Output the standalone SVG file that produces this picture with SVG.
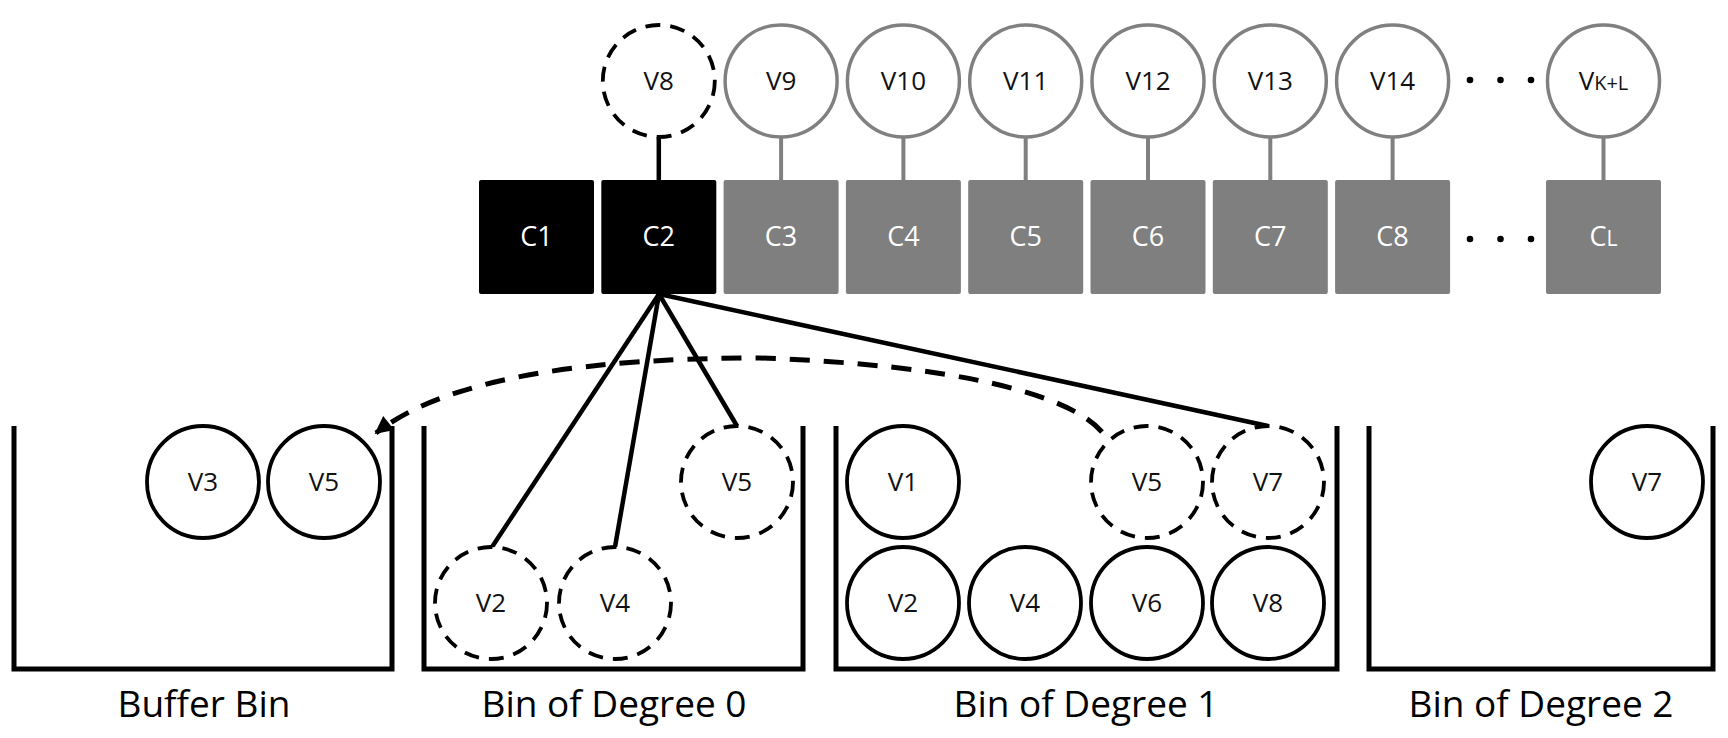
<svg xmlns="http://www.w3.org/2000/svg" width="1728" height="738" viewBox="0 0 1728 738">
<style>
  .vt { font-family: "Open Sans", "Liberation Sans", sans-serif; font-size: 26px; fill: #111; text-anchor: middle; }
  .ct { font-family: "Open Sans", "Liberation Sans", sans-serif; font-size: 27px; fill: #fff; text-anchor: middle; }
  .bt { font-family: "Open Sans", "Liberation Sans", sans-serif; font-size: 37px; fill: #000; text-anchor: middle; }
  .gcirc { fill: #fff; stroke: #808080; stroke-width: 3.5; }
  .bcirc { fill: #fff; stroke: #000; stroke-width: 3.8; }
  .dcirc { fill: #fff; stroke: #000; stroke-width: 3.8; stroke-dasharray: 15 10; }
  .gbox { fill: #7f7f7f; }
  .kbox { fill: #000; }
  .glink { stroke: #808080; stroke-width: 4; fill: none; }
  .klink { stroke: #000; stroke-width: 4.5; fill: none; }
  .bin { stroke: #000; stroke-width: 5; fill: none; }
  .dot { fill: #000; }
</style>
<defs>
  <marker id="arr" viewBox="0 0 10 10" refX="9" refY="5" markerWidth="22" markerHeight="18" markerUnits="userSpaceOnUse" orient="auto">
    <path d="M0,0 L10,5 L0,10 z" fill="#000"/>
  </marker>
</defs>
<rect width="1728" height="738" fill="#fff"/>

<!-- bins -->
<g id="bins">
  <path class="bin" d="M14,426 V669 H392 V426"/>
  <path class="bin" d="M424,426 V669 H803 V426"/>
  <path class="bin" d="M836,426 V669 H1337 V426"/>
  <path class="bin" d="M1369,426 V669 H1713 V426"/>
  <text class="bt" x="204" y="717">Buffer Bin</text>
  <text class="bt" x="614" y="717">Bin of Degree 0</text>
  <text class="bt" x="1086" y="717">Bin of Degree 1</text>
  <text class="bt" x="1541" y="717">Bin of Degree 2</text>
</g>

<!-- connectors -->
<g id="connectors">
  <line class="klink" x1="658.8" y1="137" x2="658.8" y2="180"/>
  <line class="glink" x1="781.1" y1="137" x2="781.1" y2="180"/>
  <line class="glink" x1="903.4" y1="137" x2="903.4" y2="180"/>
  <line class="glink" x1="1025.7" y1="137" x2="1025.7" y2="180"/>
  <line class="glink" x1="1148" y1="137" x2="1148" y2="180"/>
  <line class="glink" x1="1270.3" y1="137" x2="1270.3" y2="180"/>
  <line class="glink" x1="1392.6" y1="137" x2="1392.6" y2="180"/>
  <line class="glink" x1="1603.5" y1="137" x2="1603.5" y2="180"/>
  <line class="klink" x1="659" y1="294" x2="492" y2="547"/>
  <line class="klink" x1="659" y1="294" x2="615" y2="547"/>
  <line class="klink" x1="659" y1="294" x2="737" y2="426"/>
  <line class="klink" x1="659" y1="294" x2="1268" y2="426"/>
  <path d="M1102,432 C1070,395 960,365 760,358 C600,358 450,375 376,433" fill="none" stroke="#000" stroke-width="5" stroke-dasharray="20 14" marker-end="url(#arr)"/>
</g>

<!-- top variable nodes -->
<g id="V8top"><circle class="dcirc" cx="658.8" cy="81" r="56"/><text class="vt" x="658.8" y="90">V8</text></g>
<g id="V9top"><circle class="gcirc" cx="781.1" cy="81" r="56"/><text class="vt" x="781.1" y="90">V9</text></g>
<g id="V10top"><circle class="gcirc" cx="903.4" cy="81" r="56"/><text class="vt" x="903.4" y="90">V10</text></g>
<g id="V11top"><circle class="gcirc" cx="1025.7" cy="81" r="56"/><text class="vt" x="1025.7" y="90">V11</text></g>
<g id="V12top"><circle class="gcirc" cx="1148" cy="81" r="56"/><text class="vt" x="1148" y="90">V12</text></g>
<g id="V13top"><circle class="gcirc" cx="1270.3" cy="81" r="56"/><text class="vt" x="1270.3" y="90">V13</text></g>
<g id="V14top"><circle class="gcirc" cx="1392.6" cy="81" r="56"/><text class="vt" x="1392.6" y="90">V14</text></g>
<g id="VKLtop"><circle class="gcirc" cx="1603.5" cy="81" r="56"/><text class="vt" x="1603.5" y="90">V<tspan font-size="20">K+L</tspan></text></g>
<g id="dots-top">
  <circle class="dot" cx="1470" cy="80" r="3.3"/>
  <circle class="dot" cx="1500.5" cy="80" r="3.3"/>
  <circle class="dot" cx="1531" cy="80" r="3.3"/>
</g>

<!-- check nodes -->
<g id="C1"><rect class="kbox" x="479" y="180" width="115" height="114" rx="2"/><text class="ct" x="536.5" y="246">C1</text></g>
<g id="C2"><rect class="kbox" x="601.3" y="180" width="115" height="114" rx="2"/><text class="ct" x="658.8" y="246">C2</text></g>
<g id="C3"><rect class="gbox" x="723.6" y="180" width="115" height="114" rx="2"/><text class="ct" x="781.1" y="246">C3</text></g>
<g id="C4"><rect class="gbox" x="845.9" y="180" width="115" height="114" rx="2"/><text class="ct" x="903.4" y="246">C4</text></g>
<g id="C5"><rect class="gbox" x="968.2" y="180" width="115" height="114" rx="2"/><text class="ct" x="1025.7" y="246">C5</text></g>
<g id="C6"><rect class="gbox" x="1090.5" y="180" width="115" height="114" rx="2"/><text class="ct" x="1148" y="246">C6</text></g>
<g id="C7"><rect class="gbox" x="1212.8" y="180" width="115" height="114" rx="2"/><text class="ct" x="1270.3" y="246">C7</text></g>
<g id="C8"><rect class="gbox" x="1335.1" y="180" width="115" height="114" rx="2"/><text class="ct" x="1392.6" y="246">C8</text></g>
<g id="CL"><rect class="gbox" x="1546" y="180" width="115" height="114" rx="2"/><text class="ct" x="1603.5" y="246">C<tspan font-size="21">L</tspan></text></g>
<g id="dots-bottom">
  <circle class="dot" cx="1470" cy="239" r="3.3"/>
  <circle class="dot" cx="1500.5" cy="239" r="3.3"/>
  <circle class="dot" cx="1531" cy="239" r="3.3"/>
</g>

<!-- buffer bin -->
<g id="buf-V3"><circle class="bcirc" cx="203" cy="482" r="56"/><text class="vt" x="203" y="491">V3</text></g>
<g id="buf-V5"><circle class="bcirc" cx="324" cy="482" r="56"/><text class="vt" x="324" y="491">V5</text></g>

<!-- bin of degree 0 -->
<g id="d0-V5"><circle class="dcirc" cx="737" cy="482" r="56"/><text class="vt" x="737" y="491">V5</text></g>
<g id="d0-V2"><circle class="dcirc" cx="491" cy="603" r="56"/><text class="vt" x="491" y="612">V2</text></g>
<g id="d0-V4"><circle class="dcirc" cx="615" cy="603" r="56"/><text class="vt" x="615" y="612">V4</text></g>

<!-- bin of degree 1 -->
<g id="d1-V1"><circle class="bcirc" cx="903" cy="482" r="56"/><text class="vt" x="903" y="491">V1</text></g>
<g id="d1-V5"><circle class="dcirc" cx="1147" cy="482" r="56"/><text class="vt" x="1147" y="491">V5</text></g>
<g id="d1-V7"><circle class="dcirc" cx="1268" cy="482" r="56"/><text class="vt" x="1268" y="491">V7</text></g>
<g id="d1-V2"><circle class="bcirc" cx="903" cy="603" r="56"/><text class="vt" x="903" y="612">V2</text></g>
<g id="d1-V4"><circle class="bcirc" cx="1025" cy="603" r="56"/><text class="vt" x="1025" y="612">V4</text></g>
<g id="d1-V6"><circle class="bcirc" cx="1147" cy="603" r="56"/><text class="vt" x="1147" y="612">V6</text></g>
<g id="d1-V8"><circle class="bcirc" cx="1268" cy="603" r="56"/><text class="vt" x="1268" y="612">V8</text></g>

<!-- bin of degree 2 -->
<g id="d2-V7"><circle class="bcirc" cx="1647" cy="482" r="56"/><text class="vt" x="1647" y="491">V7</text></g>
</svg>
